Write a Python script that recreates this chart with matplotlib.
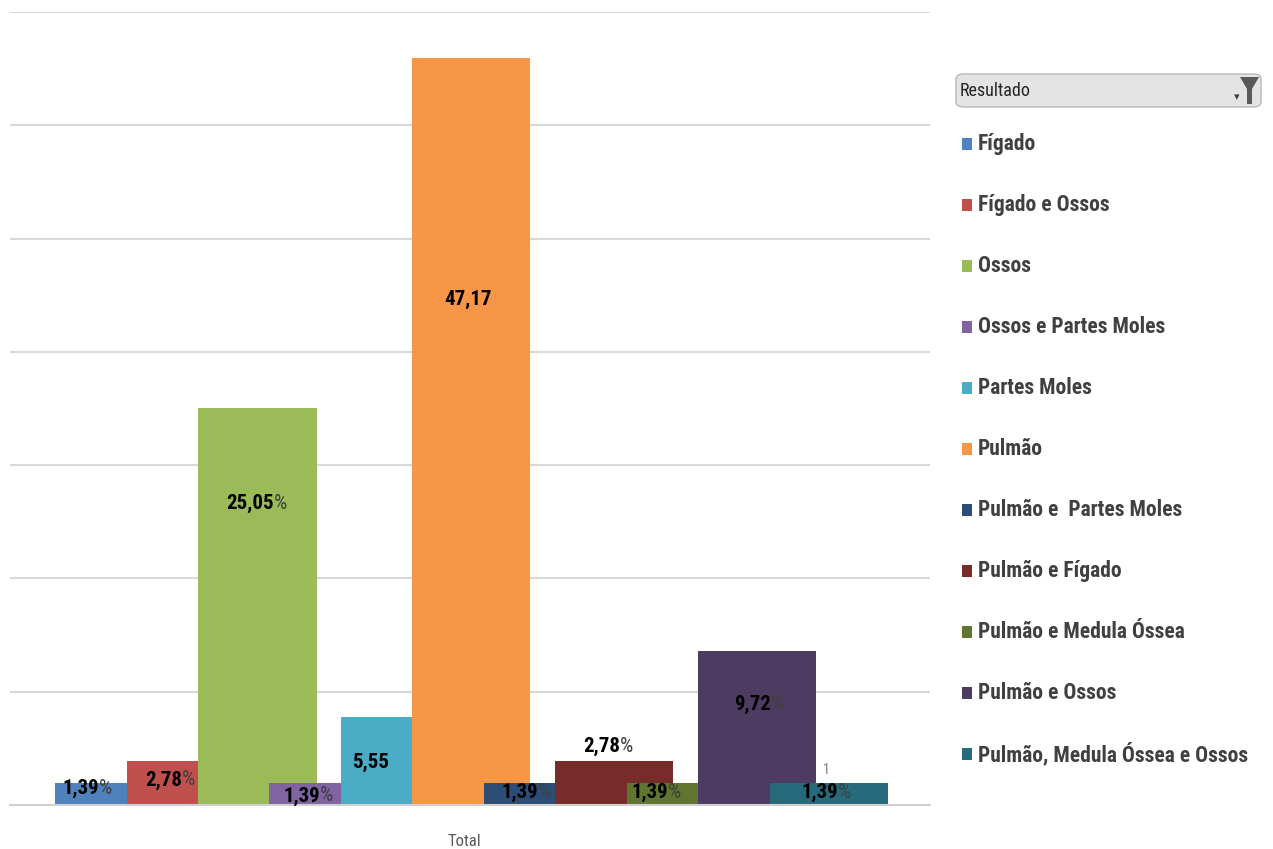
import matplotlib.pyplot as plt
import matplotlib.patches as mpatches
import numpy as np

# series (one category: "Total")
series = ['Fígado', 'Fígado e Ossos', 'Ossos', 'Ossos e Partes Moles', 'Partes Moles',
          'Pulmão', 'Pulmão e  Partes Moles', 'Pulmão e Fígado', 'Pulmão e Medula Óssea',
          'Pulmão e Ossos', 'Pulmão, Medula Óssea e Ossos']
values = [1.39, 2.78, 25.05, 1.39, 5.55, 47.17, 1.39, 2.78, 1.39, 9.72, 1.39]
label_nums = ['1,39', '2,78', '25,05', '1,39', '5,55', '47,17', '1,39', '2,78', '1,39', '9,72', '1,39']
label_pct = [True, True, True, True, False, False, True, True, True, True, True]
category = 'Total'

colors = ['#4F81BD', '#C0504D', '#9BBB59', '#8064A2', '#4BACC6', '#F79646',
          '#2C4D75', '#772C2A', '#5F7530', '#4D3B62', '#276A7C']

# bar widths (some bars drawn wider, overlapped by the next one)
widths = [1, 1, 1.66, 1, 1, 1.65, 1, 1.65, 1, 1.65, 1.65]
# label anchor positions (x in slot units, y in value units), as placed in the original
lab_x = [0.43, 1.59, 2.88, 3.52, 4.41, 5.78, 6.57, 7.72, 8.39, 9.83, 10.77]
lab_y = [1.07, 1.58, 19.06, 0.57, 2.71, 31.9, 0.82, 3.72, 0.82, 6.37, 0.82]

step = 7.15
FONT = ['Roboto Condensed', 'Roboto', 'DejaVu Sans']

fig = plt.figure(figsize=(12.73, 8.49), dpi=100)
W, H = 1273, 849
ax = fig.add_axes([10 / W, 1 - 805 / H, 920 / W, (805 - 12) / H])

x = np.arange(len(values))
for i in range(len(values)):
    ax.bar(x[i], values[i], width=widths[i], align='edge', color=colors[i],
           edgecolor='none', zorder=2 + i * 0.01)

ax.set_xlim(-0.63, 12.24)
ax.set_ylim(0, step * 7)
ax.set_yticks(np.arange(1, 8) * step)
ax.yaxis.grid(True, color='#D9D9D9', linewidth=1.5, zorder=0)
ax.tick_params(axis='y', length=0, labelleft=False)
for s in ['top', 'right', 'left']:
    ax.spines[s].set_visible(False)
ax.spines['bottom'].set_color('#D0D0D0')
ax.spines['bottom'].set_linewidth(1.5)
ax.set_xticks([5.73])
ax.set_xticklabels([category], fontsize=12, color='#595959', family=FONT)
ax.tick_params(axis='x', length=0, pad=21)

# data labels: heavy number + lighter "%"
for i in range(len(values)):
    if label_pct[i]:
        ax.annotate(label_nums[i], (lab_x[i], lab_y[i]), xytext=(13, 0),
                    textcoords='offset pixels', ha='right', va='center',
                    fontsize=15, fontweight='heavy', color='black', family=FONT, zorder=5)
        ax.annotate('%', (lab_x[i], lab_y[i]), xytext=(13, 0),
                    textcoords='offset pixels', ha='left', va='center',
                    fontsize=15, color='#404040', family=FONT, zorder=5)
    else:
        ax.text(lab_x[i], lab_y[i], label_nums[i], ha='center', va='center',
                fontsize=15, fontweight='heavy', color='black', family=FONT, zorder=5)
ax.annotate('1', (lab_x[-1], lab_y[-1]), xytext=(1, 22), textcoords='offset pixels',
            ha='center', va='center', fontsize=10, color='#7F7F7F', family=FONT, zorder=5)

# legend header (filter button)
hdr = mpatches.FancyBboxPatch((956 / W, 1 - 107 / H), 305 / W, 33 / H,
                              boxstyle='round,pad=0,rounding_size=0.006',
                              transform=fig.transFigure, facecolor='#E4E4E4',
                              edgecolor='#B8B8B8', linewidth=1)
fig.patches.append(hdr)
fig.text(960 / W, 1 - 91 / H, 'Resultado', fontsize=13, color='#262626',
         va='center', ha='left', family=FONT)
funnel = mpatches.Polygon([[1240 / W, 1 - 77 / H], [1259 / W, 1 - 77 / H],
                           [1252 / W, 1 - 89 / H], [1252 / W, 1 - 104 / H],
                           [1247 / W, 1 - 104 / H], [1247 / W, 1 - 89 / H]],
                          closed=True, transform=fig.transFigure, facecolor='#595959',
                          edgecolor='none')
fig.patches.append(funnel)
fig.text(1237 / W, 1 - 97 / H, '▾', fontsize=8, color='#404040', ha='center', va='center')

# legend entries
for i, name in enumerate(series):
    yc = 144 + i * 61
    fig.patches.append(mpatches.Rectangle((962 / W, 1 - (yc + 6) / H), 10 / W, 12 / H,
                                          transform=fig.transFigure, facecolor=colors[i],
                                          edgecolor='none'))
    fig.text(978 / W, 1 - yc / H, name, fontsize=15.5, fontweight='bold', color='#404040',
             va='center', ha='left', family=FONT)

plt.savefig('out.png', dpi=100)
